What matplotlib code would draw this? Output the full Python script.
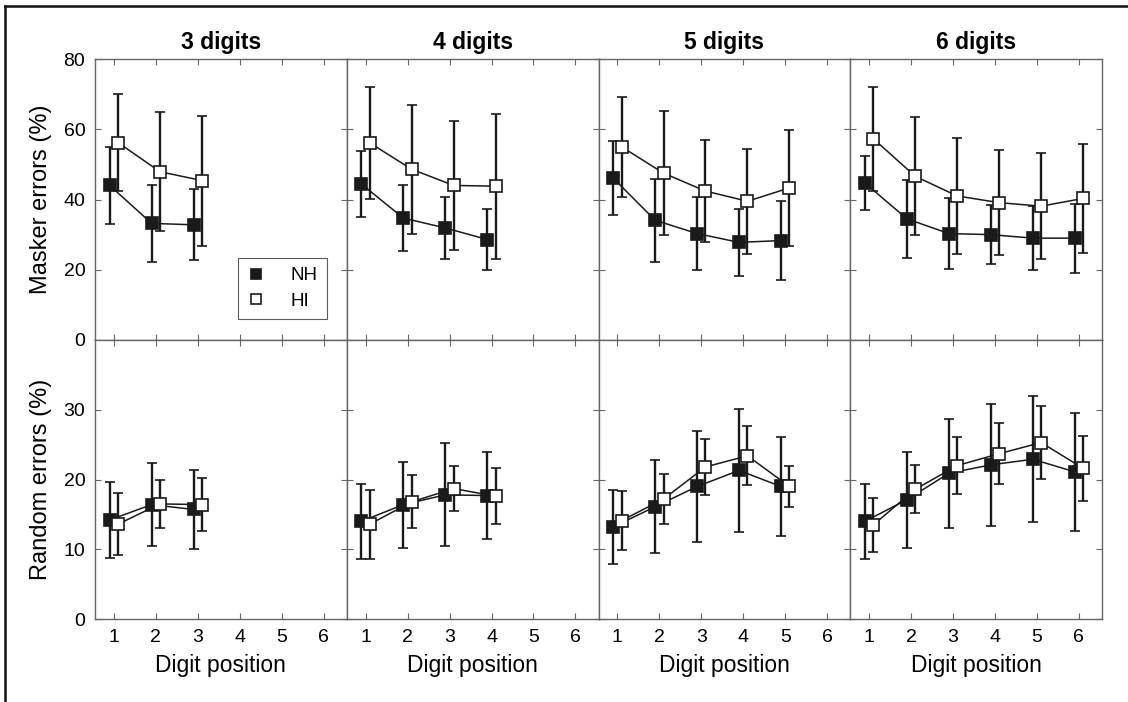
import numpy as np
import matplotlib
matplotlib.use("Agg")
import matplotlib.pyplot as plt
from matplotlib.lines import Line2D

plt.rcParams['font.family'] = ['Liberation Sans', 'DejaVu Sans']

titles = ['3 digits', '4 digits', '5 digits', '6 digits']
x_ticks = [1, 2, 3, 4, 5, 6]

# masker errors (%), mean and SD per digit position
nh_masker = [[44.0, 33.2, 32.8],
             [44.4, 34.7, 31.9, 28.6],
             [46.1, 34.1, 30.3, 27.8, 28.3],
             [44.7, 34.5, 30.3, 30.0, 29.0, 29.0]]
nh_masker_sd = [[11.0, 11.0, 10.1],
                [9.3, 9.5, 8.9, 8.8],
                [10.6, 11.8, 10.3, 9.6, 11.2],
                [7.8, 11.1, 10.2, 8.3, 9.1, 9.8]]
hi_masker = [[56.2, 47.9, 45.4],
             [56.1, 48.6, 44.0, 43.8],
             [55.0, 47.5, 42.4, 39.5, 43.3],
             [57.3, 46.6, 41.0, 39.1, 38.1, 40.3]]
hi_masker_sd = [[13.7, 17.0, 18.5],
                [16.0, 18.4, 18.4, 20.6],
                [14.2, 17.6, 14.5, 15.0, 16.4],
                [14.8, 16.8, 16.6, 15.0, 15.1, 15.6]]

# random errors (%)
nh_random = [[14.2, 16.4, 15.7],
             [14.0, 16.4, 17.8, 17.7],
             [13.2, 16.1, 19.0, 21.3, 19.0],
             [14.0, 17.1, 20.9, 22.1, 22.9, 21.1]]
nh_random_sd = [[5.45, 6.0, 5.7],
                [5.35, 6.15, 7.4, 6.3],
                [5.35, 6.7, 7.9, 8.85, 7.05],
                [5.4, 6.9, 7.8, 8.75, 9.05, 8.5]]
hi_random = [[13.6, 16.5, 16.4],
             [13.6, 16.8, 18.7, 17.6],
             [14.1, 17.2, 21.8, 23.4, 19.0],
             [13.5, 18.6, 22.0, 23.7, 25.3, 21.6]]
hi_random_sd = [[4.45, 3.45, 3.85],
                [4.95, 3.8, 3.2, 4.0],
                [4.25, 3.65, 4.05, 4.2, 2.95],
                [3.85, 3.45, 4.1, 4.4, 5.2, 4.65]]

W, H = 1128, 702
fig = plt.figure(figsize=(W / 100, H / 100), dpi=100)

left, right = 95, 1102
top, mid, bottom = 59, 340, 619
pw = (right - left) / 4
spine_col = '#666666'
ink = '#1a1a1a'


def draw(ax, nh, nh_sd, hi, hi_sd):
    x = np.arange(1, len(nh) + 1)
    eb = dict(ecolor=ink, elinewidth=1.7, capsize=3.3, capthick=1.7,
              color=ink, lw=1.1, marker='s', ms=8.3, mec=ink, mew=1.2)
    ax.errorbar(x - 0.1, nh, yerr=nh_sd, mfc=ink, zorder=3, **eb)
    ax.errorbar(x + 0.1, hi, yerr=hi_sd, mfc='white', zorder=4, **eb)
    ax.set_xlim(0.55, 6.55)
    ax.set_xticks(x_ticks)
    ax.tick_params(direction='in', top=True, right=True, length=4,
                   color=spine_col, labelsize=14, pad=7)
    for s in ax.spines.values():
        s.set_color(spine_col)
        s.set_linewidth(1.0)


for i in range(4):
    x0 = (left + i * pw) / W
    ax_t = fig.add_axes([x0, 1 - mid / H, pw / W, (mid - top) / H])
    ax_b = fig.add_axes([x0, 1 - bottom / H, pw / W, (bottom - mid) / H])

    draw(ax_t, nh_masker[i], nh_masker_sd[i], hi_masker[i], hi_masker_sd[i])
    draw(ax_b, nh_random[i], nh_random_sd[i], hi_random[i], hi_random_sd[i])

    ax_t.set_ylim(0, 80)
    ax_t.set_yticks([0, 20, 40, 60, 80])
    ax_b.set_ylim(0, 40)
    ax_b.set_yticks([0, 10, 20, 30])
    ax_t.tick_params(labelbottom=False)
    ax_t.set_title(titles[i], fontsize=16.5, fontweight='bold', pad=7)
    ax_b.set_xlabel('Digit position', fontsize=16.5, labelpad=6)

    if i == 0:
        ax_t.set_ylabel('Masker errors (%)', fontsize=17, labelpad=8)
        ax_b.set_ylabel('Random errors (%)', fontsize=17, labelpad=8)
        handles = [Line2D([], [], ls='none', marker='s', ms=7, mfc=ink, mec=ink, mew=1.2),
                   Line2D([], [], ls='none', marker='s', ms=7, mfc='white', mec=ink, mew=1.2)]
        lg = ax_t.legend(handles, ['NH', 'HI'], loc='lower right',
                         bbox_to_anchor=(0.92, 0.074), borderaxespad=0,
                         fancybox=False, edgecolor='#333333', fontsize=13.5,
                         handlelength=1.0, borderpad=0.5, labelspacing=0.45,
                         handletextpad=1.3)
        lg.get_frame().set_linewidth(0.8)
    else:
        ax_t.tick_params(labelleft=False)
        ax_b.tick_params(labelleft=False)

# open frame around the figure (top and left only)
fig.add_artist(Line2D([5 / W, 1], [1 - 6 / H, 1 - 6 / H], color='#111111', lw=1.8))
fig.add_artist(Line2D([5 / W, 5 / W], [0, 1 - 6 / H], color='#111111', lw=1.8))

fig.savefig('out.png', dpi=100)
